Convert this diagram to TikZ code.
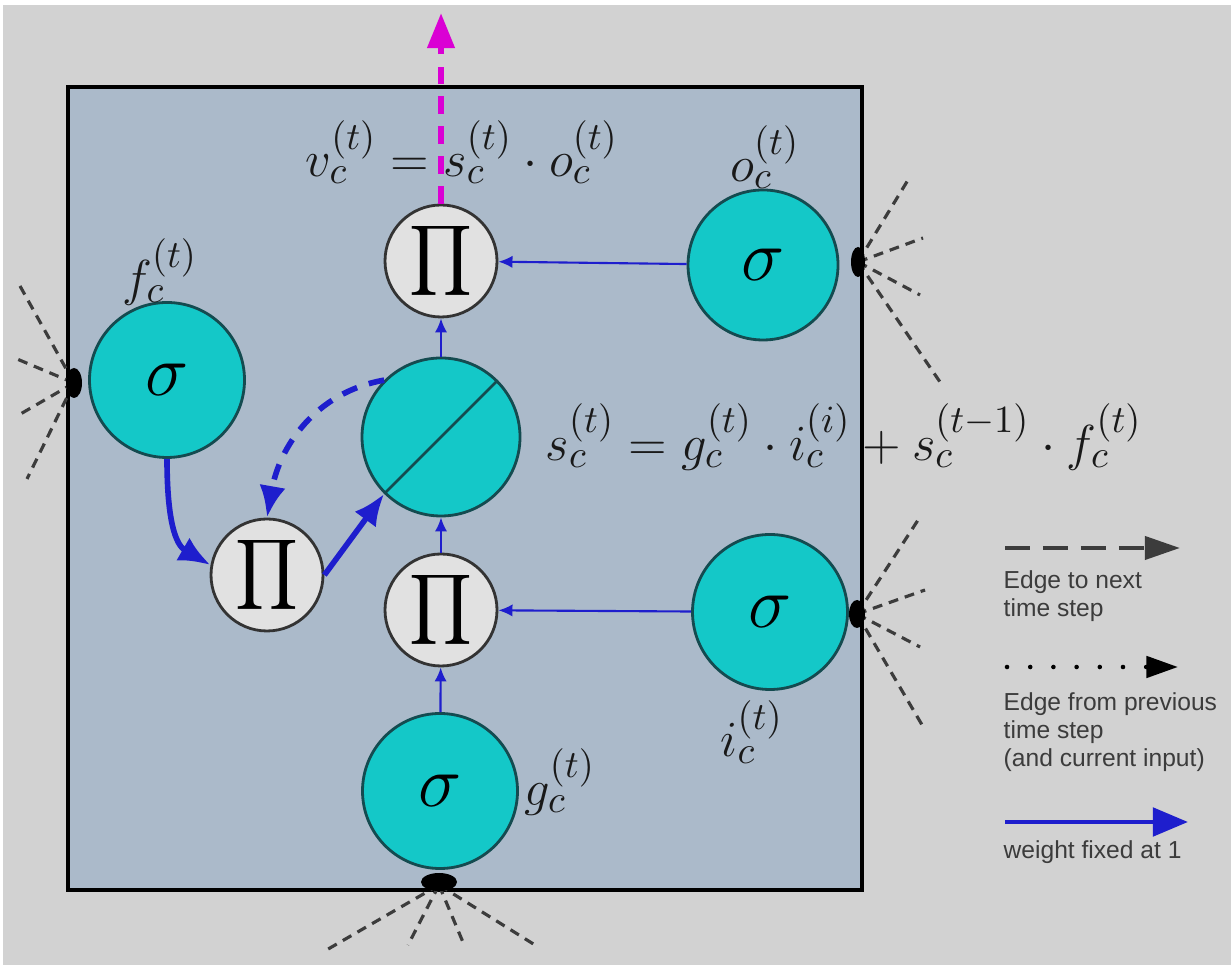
\documentclass[tikz,border=0pt]{standalone}
\usepackage{amsmath,amssymb}
\usepackage{fontspec}
\newfontfamily\legendfont{Liberation Sans}
\usetikzlibrary{arrows.meta,positioning}

\definecolor{paper}{RGB}{210,210,210}
\definecolor{cellbg}{RGB}{171,186,202}
\definecolor{gatefill}{RGB}{20,200,200}
\definecolor{gateline}{RGB}{20,75,80}
\definecolor{prodfill}{RGB}{225,225,225}
\definecolor{wire}{RGB}{30,30,205}
\definecolor{outwire}{RGB}{218,0,212}
\definecolor{fan}{RGB}{60,60,60}
\definecolor{legendink}{RGB}{60,60,60}

\tikzset{
  gate/.style={circle, draw=gateline, line width=0.8pt, fill=gatefill,
    minimum size=1.55cm, inner sep=0pt, font=\fontsize{22}{24}\selectfont},
  prodnode/.style={circle, draw=black!80, line width=0.8pt, fill=prodfill,
    minimum size=1.12cm, inner sep=0pt, font=\fontsize{14}{16}\selectfont},
  thinwire/.style={wire, line width=0.6pt, -{Latex[length=4pt,width=3.5pt]}},
  fatwire/.style={wire, line width=1.6pt, -{Latex[length=9pt,width=7.5pt]}},
  fanline/.style={fan, line width=0.9pt, dash pattern=on 2.8pt off 2pt},
  eqn/.style={font=\fontsize{15}{18}\selectfont, inner sep=0pt, text=black!90},
  legendtext/.style={font=\legendfont\fontsize{7}{8}\selectfont, text=legendink,
    align=left, anchor=north west, inner sep=0pt},
}

\begin{document}
\begin{tikzpicture}
  % page and the memory cell box
  \fill[white] (0,0) rectangle (12.31,9.65);
  \fill[paper] (0.03,0) rectangle (12.31,9.60);
  \draw[line width=1.2pt, fill=cellbg] (0.68,0.75) rectangle (8.62,8.78);

  % inputs from the previous step, fanning in through the box
  \coordinate (fin) at (0.74,5.82);
  \coordinate (oin) at (8.58,7.03);
  \coordinate (iin) at (8.57,3.51);
  \coordinate (gin) at (4.39,0.80);
  \foreach \dx/\dy in {-0.54/0.97, -0.57/0.24, -0.57/-0.33, -0.47/-0.96}
    \draw[fanline] (fin) -- ++(\dx,\dy);
  \foreach \dx/\dy in {0.50/0.82, 0.65/0.24, 0.62/-0.33, 0.82/-1.20}
    \draw[fanline] (oin) -- ++(\dx,\dy);
  \foreach \dx/\dy in {0.63/0.97, 0.68/0.24, 0.63/-0.33, 0.68/-1.16}
    \draw[fanline] (iin) -- ++(\dx,\dy);
  \foreach \dx/\dy in {-1.16/-0.67, -0.31/-0.60, 0.26/-0.62, 0.96/-0.60}
    \draw[fanline] (gin) -- ++(\dx,\dy);
  \fill[black] (fin) ellipse (0.08 and 0.15);
  \fill[black] (oin) ellipse (0.07 and 0.15);
  \fill[black] (iin) ellipse (0.08 and 0.14);
  \fill[black] ([yshift=0.03cm]gin) ellipse (0.18 and 0.09);

  % gates, cell state and products
  \node[gate] (fgate) at (1.67,5.85) {$\sigma$};
  \node[gate, minimum size=1.50cm] (ogate) at (7.63,7.00) {$\sigma$};
  \node[gate] (igate) at (7.70,3.53) {$\sigma$};
  \node[gate] (ggate) at (4.40,1.74) {$\sigma$};
  \node[gate, minimum size=1.58cm] (cell) at (4.41,5.28) {};
  \draw[gateline, line width=0.8pt] (cell.225) -- (cell.45);
  \node[prodnode] (prodout) at (4.41,7.04) {$\displaystyle\prod$};
  \node[prodnode] (prodin) at (4.41,3.55) {$\displaystyle\prod$};
  \node[prodnode] (prodf) at (2.67,3.90) {$\displaystyle\prod$};

  % connections
  \draw[thinwire] (ogate) -- (prodout);
  \draw[thinwire] (igate) -- (prodin);
  \draw[thinwire] (ggate) -- (prodin);
  \draw[thinwire] (prodin) -- (cell);
  \draw[thinwire] (cell) -- (prodout);
  \draw[fatwire] (fgate.south) to[out=-90, in=150] (prodf.170);
  \draw[fatwire] (prodf.east) -- (cell.225);
  \draw[fatwire, dash pattern=on 4.5pt off 3.5pt] (cell.135) to[out=190, in=80] (prodf.north);
  \coordinate (vout) at (4.41,9.52);
  \draw[outwire, line width=1.8pt, dash pattern=on 5pt off 3.5pt,
    -{Triangle[length=10pt,width=7.5pt]}] (prodout.north) -- (vout);

  % labels
  \node[eqn] (flabel) at (1.60,6.93) {$f_c^{(t)}$};
  \node[eqn] (olabel) at (7.65,8.08) {$o_c^{(t)}$};
  \node[eqn] (vlabel) at (4.62,8.13) {$v_c^{(t)} = s_c^{(t)}\cdot o_c^{(t)}$};
  \node[eqn] (slabel) at (8.44,5.28)
    {$s_c^{(t)} = g_c^{(t)}\cdot i_c^{(i)} + s_c^{(t-1)}\cdot f_c^{(t)}$};
  \node[eqn] (ilabel) at (7.52,2.33) {$i_c^{(t)}$};
  \node[eqn] (glabel) at (5.60,1.83) {$g_c^{(t)}$};

  % legend
  \coordinate (nextA) at (10.05,4.17);
  \coordinate (nextB) at (11.80,4.17);
  \draw[legendink, line width=1.3pt, dash pattern=on 7pt off 3.8pt,
    -{Triangle[length=10pt,width=6.5pt]}] (nextA) -- (nextB);
  \node[legendtext] (nexttext) at (10.03,3.95) {Edge to next\\time step};
  \coordinate (prevA) at (10.07,2.98);
  \coordinate (prevB) at (11.78,2.98);
  \draw[black, line width=1.3pt, line cap=round, dash pattern=on 0pt off 6.6pt,
    -{Triangle[length=9pt,width=6pt]}] (prevA) -- (prevB);
  \node[legendtext] (prevtext) at (10.03,2.73)
    {Edge from previous\\time step\\(and current input)};
  \coordinate (fixA) at (10.05,1.43);
  \coordinate (fixB) at (11.88,1.43);
  \draw[wire, line width=1.4pt, -{Triangle[length=10pt,width=8pt]}] (fixA) -- (fixB);
  \node[legendtext] (fixtext) at (10.03,1.25) {weight fixed at 1};
\end{tikzpicture}
\end{document}
